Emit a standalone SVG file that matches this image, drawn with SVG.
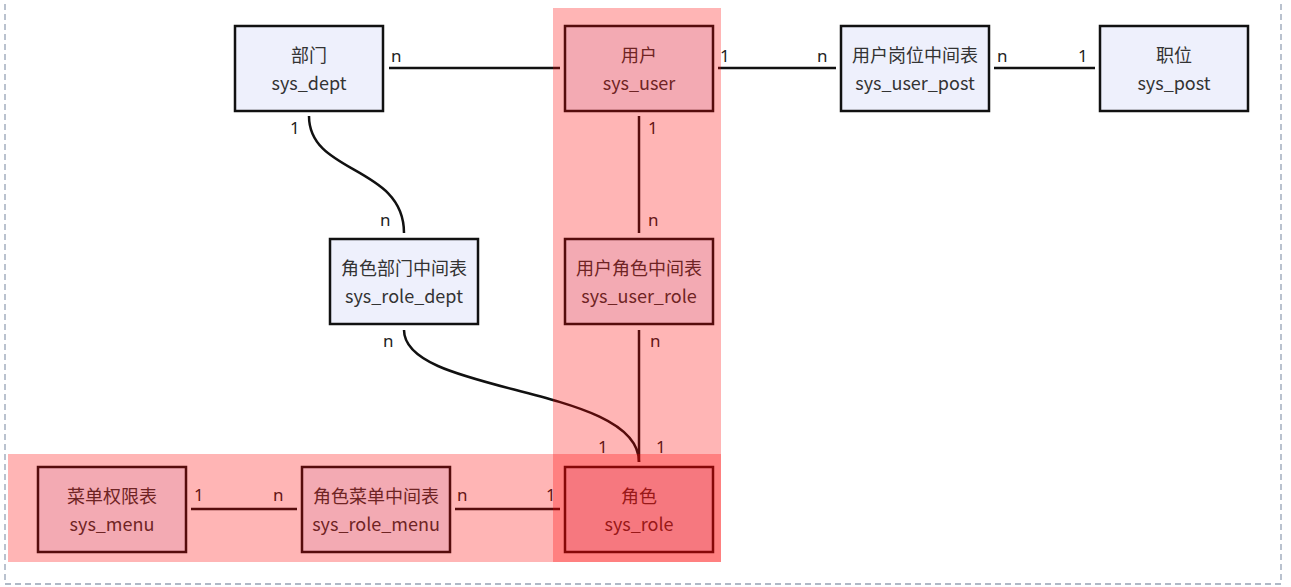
<svg xmlns="http://www.w3.org/2000/svg" width="1291" height="587" viewBox="0 0 1291 587">
<style>
.box{fill:#eef0fc;stroke:#111;stroke-width:2.5}
.t{font-family:"Noto Sans CJK SC","Noto Sans",sans-serif;font-size:18px;fill:#333;text-anchor:middle}
.c{fill:none;stroke:#111;stroke-width:2.5}
.l{font-family:"Noto Sans","Noto Sans CJK SC",sans-serif;font-size:17px;fill:#222}
.band{fill:#ff0000;fill-opacity:0.29}
</style>
<rect x="5" y="-10" width="1276" height="594" fill="#fff" stroke="#95a2b5" stroke-width="1.3" stroke-dasharray="6 4"/>
<g id="connectors">
<path class="c" d="M389,68H560"/>
<path class="c" d="M718,68H836"/>
<path class="c" d="M994,68H1095"/>
<path class="c" d="M639,116V233"/>
<path class="c" d="M309,116C309,175 404,165 404,233"/>
<path class="c" d="M639,330V462"/>
<path class="c" d="M404,330C404,395 639,385 639,462"/>
<path class="c" d="M191,509H297"/>
<path class="c" d="M455,509H560"/>
</g>
<g id="labels">
<text class="l" x="391" y="62">n</text>
<text class="l" x="720" y="62">1</text>
<text class="l" x="817" y="62">n</text>
<text class="l" x="997" y="62">n</text>
<text class="l" x="1078" y="62">1</text>
<text class="l" x="648" y="134">1</text>
<text class="l" x="648" y="226">n</text>
<text class="l" x="290" y="134">1</text>
<text class="l" x="380" y="226">n</text>
<text class="l" x="650" y="347">n</text>
<text class="l" x="383" y="347">n</text>
<text class="l" x="598" y="453">1</text>
<text class="l" x="656" y="453">1</text>
<text class="l" x="194" y="501">1</text>
<text class="l" x="273" y="501">n</text>
<text class="l" x="457" y="501">n</text>
<text class="l" x="546" y="501">1</text>
</g>
<g id="sys_dept"><rect class="box" x="235" y="26" width="148" height="85"/><text class="t" x="309" y="62">部门</text><text class="t" x="309" y="90">sys_dept</text></g>
<g id="sys_user"><rect class="box" x="565" y="26" width="148" height="85"/><text class="t" x="639" y="62">用户</text><text class="t" x="639" y="90">sys_user</text></g>
<g id="sys_user_post"><rect class="box" x="841" y="26" width="148" height="85"/><text class="t" x="915" y="62">用户岗位中间表</text><text class="t" x="915" y="90">sys_user_post</text></g>
<g id="sys_post"><rect class="box" x="1100" y="26" width="148" height="85"/><text class="t" x="1174" y="62">职位</text><text class="t" x="1174" y="90">sys_post</text></g>
<g id="sys_role_dept"><rect class="box" x="330" y="239" width="148" height="85"/><text class="t" x="404" y="275">角色部门中间表</text><text class="t" x="404" y="303">sys_role_dept</text></g>
<g id="sys_user_role"><rect class="box" x="565" y="239" width="148" height="85"/><text class="t" x="639" y="275">用户角色中间表</text><text class="t" x="639" y="303">sys_user_role</text></g>
<g id="sys_menu"><rect class="box" x="38" y="467" width="148" height="85"/><text class="t" x="112" y="503">菜单权限表</text><text class="t" x="112" y="531">sys_menu</text></g>
<g id="sys_role_menu"><rect class="box" x="302" y="467" width="148" height="85"/><text class="t" x="376" y="503">角色菜单中间表</text><text class="t" x="376" y="531">sys_role_menu</text></g>
<g id="sys_role"><rect class="box" x="565" y="467" width="148" height="85"/><text class="t" x="639" y="503">角色</text><text class="t" x="639" y="531">sys_role</text></g>
<rect class="band" x="553" y="8" width="168" height="554"/>
<rect class="band" x="8" y="454" width="713" height="108"/>
</svg>
